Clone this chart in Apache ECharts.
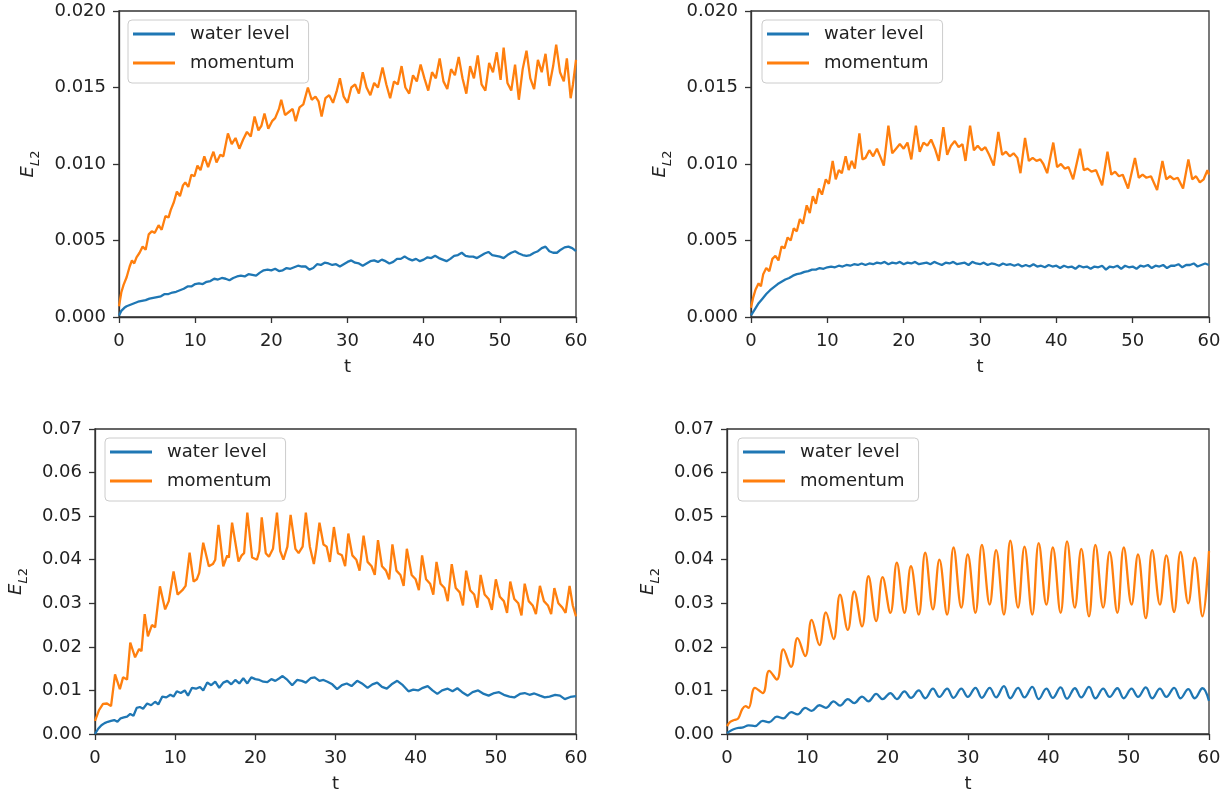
<!DOCTYPE html>
<html><head><meta charset="utf-8">
<script src="https://cdn.jsdelivr.net/npm/echarts@6/dist/echarts.min.js"></script>
<style>html,body{margin:0;padding:0;background:#fff}#c{width:1229px;height:794px}</style>
</head><body><div id="c"></div>
<script>
// ---- tick values ----
const xTicks = [0, 10, 20, 30, 40, 50, 60];
const yTicksTop = [0, 0.005, 0.010, 0.015, 0.020];
const yTicksBottom = [0, 0.01, 0.02, 0.03, 0.04, 0.05, 0.06, 0.07];
const seriesNames = ['water level', 'momentum'];

// ---- data: [t, E_L2] ----
const tlWater = [[0,0.0001],[0.3,0.0004],[0.7,0.0006],[1.0,0.0007],[1.5,0.0008],[2.0,0.0009],[2.5,0.0010],[3.0,0.00105],[3.5,0.0011],[4.0,0.0012],[4.5,0.00125],[5.0,0.0013],[5.5,0.00135],[6.0,0.0015],[6.5,0.0015],[7.0,0.0016],[7.5,0.00165],[8.0,0.00175],[8.5,0.00185],[9.0,0.0020],[9.5,0.0020],[10.0,0.00215],[10.5,0.0022],[11.0,0.00215],[11.5,0.0023],[12.0,0.00235],[12.5,0.0025],[13.0,0.00245],[13.5,0.00255],[14.0,0.0025],[14.5,0.0024],[15.0,0.00255],[15.5,0.00265],[16.0,0.0027],[16.5,0.00265],[17.0,0.0028],[17.5,0.00275],[18.0,0.0027],[18.5,0.0029],[19.0,0.00305],[19.5,0.0031],[20.0,0.00305],[20.5,0.00315],[21.0,0.0030],[21.5,0.00305],[22.0,0.0032],[22.5,0.00315],[23.0,0.00325],[23.5,0.00335],[24.0,0.0033],[24.5,0.0033],[25.0,0.0031],[25.5,0.0032],[26.0,0.00345],[26.5,0.0034],[27.0,0.00355],[27.5,0.0035],[28.0,0.0034],[28.5,0.00345],[29.0,0.0033],[29.5,0.00345],[30.0,0.0036],[30.5,0.0037],[31.0,0.00355],[31.5,0.0035],[32.0,0.00335],[32.5,0.0035],[33.0,0.00365],[33.5,0.0037],[34.0,0.0036],[34.5,0.00375],[35.0,0.00365],[35.5,0.0035],[36.0,0.0036],[36.5,0.0038],[37.0,0.0038],[37.5,0.00395],[38.0,0.0038],[38.5,0.0037],[39.0,0.0038],[39.5,0.00365],[40.0,0.00375],[40.5,0.0039],[41.0,0.00385],[41.5,0.0040],[42.0,0.00385],[42.5,0.00375],[43.0,0.00365],[43.5,0.0038],[44.0,0.0040],[44.5,0.00405],[45.0,0.0042],[45.5,0.0040],[46.0,0.00395],[46.5,0.00395],[47.0,0.00385],[47.5,0.0040],[48.0,0.00415],[48.5,0.00425],[49.0,0.00405],[49.5,0.0040],[50.0,0.00395],[50.5,0.00385],[51.0,0.00405],[51.5,0.0042],[52.0,0.0043],[52.5,0.00415],[53.0,0.00405],[53.5,0.0040],[54.0,0.00405],[54.5,0.0042],[55.0,0.0043],[55.5,0.0045],[56.0,0.0046],[56.5,0.0043],[57.0,0.0042],[57.5,0.0042],[58.0,0.0044],[58.5,0.00455],[59.0,0.0046],[59.5,0.0045],[60.0,0.0043]];
const tlMomentum = [[0,0.0007],[0.3,0.0016],[0.6,0.0021],[1.0,0.0026],[1.4,0.0033],[1.7,0.0037],[2.0,0.0035],[2.3,0.0039],[2.7,0.0042],[3.1,0.0046],[3.5,0.0044],[3.9,0.0054],[4.3,0.0056],[4.7,0.0055],[5.2,0.0060],[5.6,0.0057],[6.1,0.0066],[6.5,0.0065],[6.8,0.0070],[7.2,0.0075],[7.6,0.0082],[8.0,0.0079],[8.4,0.0086],[8.7,0.0088],[9.1,0.0085],[9.5,0.0093],[9.9,0.0092],[10.3,0.0099],[10.7,0.0096],[11.2,0.0105],[11.7,0.0098],[12.1,0.0104],[12.4,0.0108],[12.8,0.0101],[13.3,0.0106],[13.7,0.0105],[14.3,0.0120],[14.8,0.0113],[15.3,0.0117],[15.8,0.0110],[16.3,0.0116],[16.8,0.0121],[17.3,0.0118],[17.8,0.0131],[18.3,0.0122],[18.7,0.0125],[19.1,0.0133],[19.6,0.0123],[20.1,0.0128],[20.5,0.0130],[21.0,0.0136],[21.3,0.0142],[21.8,0.0132],[22.3,0.0134],[22.8,0.0136],[23.2,0.0128],[23.7,0.0137],[24.2,0.0139],[24.8,0.0150],[25.3,0.0142],[25.8,0.0144],[26.2,0.0141],[26.6,0.0131],[27.1,0.0143],[27.6,0.0145],[28.1,0.0140],[28.6,0.0148],[29.0,0.0156],[29.5,0.0144],[30.0,0.0140],[30.5,0.0150],[31.0,0.0152],[31.5,0.0146],[32.0,0.0160],[32.5,0.0150],[33.0,0.0145],[33.5,0.0153],[34.0,0.0150],[34.6,0.0163],[35.1,0.0152],[35.6,0.0143],[36.1,0.0154],[36.6,0.0152],[37.1,0.0164],[37.6,0.0150],[38.1,0.0146],[38.6,0.0158],[39.1,0.0154],[39.6,0.0165],[40.1,0.0156],[40.6,0.0148],[41.1,0.0160],[41.6,0.0156],[42.1,0.0169],[42.6,0.0154],[43.1,0.0149],[43.6,0.0162],[44.1,0.0158],[44.6,0.0170],[45.1,0.0156],[45.6,0.0146],[46.1,0.0164],[46.6,0.0156],[47.1,0.0171],[47.6,0.0152],[48.1,0.0148],[48.6,0.0166],[49.1,0.0160],[49.6,0.0173],[50.1,0.0155],[50.5,0.0176],[51.0,0.0153],[51.5,0.0148],[52.0,0.0165],[52.5,0.0142],[53.0,0.0162],[53.5,0.0174],[54.0,0.0156],[54.5,0.0149],[55.0,0.0168],[55.5,0.0160],[56.0,0.0172],[56.5,0.0151],[57.0,0.0164],[57.4,0.0178],[57.9,0.0160],[58.4,0.0154],[58.8,0.0169],[59.3,0.0143],[59.6,0.0152],[60.0,0.0168]];
const trWater = [[0,0.0001],[0.5,0.0005],[1.0,0.0009],[1.5,0.0012],[2.0,0.0015],[2.5,0.00175],[3.0,0.00195],[3.5,0.00215],[4.0,0.0023],[4.5,0.00245],[5.0,0.00255],[5.5,0.0027],[6.0,0.0028],[6.5,0.00285],[7.0,0.00295],[7.5,0.0030],[8.0,0.0031],[8.5,0.0031],[9.0,0.0032],[9.5,0.00315],[10.0,0.00325],[10.5,0.0033],[11.0,0.00325],[11.5,0.00335],[12.0,0.0033],[12.5,0.0034],[13.0,0.00335],[13.5,0.00345],[14.0,0.0034],[14.5,0.0035],[15.0,0.0034],[15.5,0.0035],[16.0,0.00345],[16.5,0.00355],[17.0,0.0035],[17.5,0.0036],[18.0,0.00345],[18.5,0.00355],[19.0,0.0035],[19.5,0.0036],[20.0,0.00345],[20.5,0.00355],[21.0,0.0035],[21.5,0.0036],[22.0,0.00345],[22.5,0.0035],[23.0,0.00355],[23.5,0.00345],[24.0,0.0036],[24.5,0.0035],[25.0,0.0034],[25.5,0.00355],[26.0,0.0035],[26.5,0.0036],[27.0,0.00345],[27.5,0.0035],[28.0,0.00355],[28.5,0.0034],[29.0,0.0036],[29.5,0.0035],[30.0,0.00345],[30.5,0.00355],[31.0,0.0034],[31.5,0.0035],[32.0,0.00345],[32.5,0.00335],[33.0,0.0035],[33.5,0.0034],[34.0,0.00345],[34.5,0.00335],[35.0,0.00345],[35.5,0.0033],[36.0,0.0034],[36.5,0.0033],[37.0,0.00345],[37.5,0.0033],[38.0,0.00335],[38.5,0.00325],[39.0,0.0034],[39.5,0.0033],[40.0,0.00335],[40.5,0.0032],[41.0,0.00335],[41.5,0.00325],[42.0,0.0033],[42.5,0.00315],[43.0,0.00335],[43.5,0.00325],[44.0,0.0033],[44.5,0.00315],[45.0,0.0033],[45.5,0.00325],[46.0,0.00335],[46.5,0.0031],[47.0,0.0033],[47.5,0.00325],[48.0,0.00335],[48.5,0.00315],[49.0,0.00335],[49.5,0.00325],[50.0,0.0033],[50.5,0.00315],[51.0,0.00335],[51.5,0.0033],[52.0,0.0034],[52.5,0.0032],[53.0,0.00335],[53.5,0.0033],[54.0,0.0034],[54.5,0.0032],[55.0,0.00335],[55.5,0.00335],[56.0,0.00345],[56.5,0.00325],[57.0,0.0034],[57.5,0.0034],[58.0,0.0035],[58.5,0.0033],[59.0,0.0034],[59.5,0.0035],[60.0,0.0034]];
const trMomentum = [[0,0.0006],[0.3,0.0013],[0.6,0.0018],[1.0,0.0022],[1.3,0.0020],[1.6,0.0028],[2.0,0.0032],[2.4,0.0030],[2.8,0.0038],[3.2,0.0040],[3.6,0.0037],[4.0,0.0046],[4.4,0.0045],[4.8,0.0052],[5.2,0.0050],[5.6,0.0058],[6.0,0.0056],[6.4,0.0064],[6.8,0.0061],[7.3,0.0073],[7.7,0.0068],[8.1,0.0079],[8.5,0.0074],[8.9,0.0084],[9.3,0.0080],[9.8,0.0090],[10.2,0.0087],[10.7,0.0102],[11.1,0.0090],[11.5,0.0096],[11.9,0.0094],[12.4,0.0105],[12.8,0.0096],[13.2,0.0102],[13.6,0.0097],[14.2,0.0120],[14.6,0.0103],[15.0,0.0104],[15.5,0.0109],[16.0,0.0105],[16.5,0.0110],[17.0,0.0104],[17.4,0.0099],[18.0,0.0125],[18.5,0.0107],[19.0,0.0110],[19.5,0.0113],[20.0,0.0110],[20.5,0.0114],[21.0,0.0103],[21.6,0.0125],[22.1,0.0108],[22.6,0.0114],[23.1,0.0112],[23.6,0.0116],[24.1,0.0110],[24.6,0.0102],[25.2,0.0124],[25.7,0.0106],[26.2,0.0112],[26.7,0.0115],[27.2,0.0111],[27.7,0.0113],[28.1,0.0102],[28.7,0.0125],[29.2,0.0109],[29.7,0.0112],[30.2,0.0109],[30.7,0.0111],[31.2,0.0106],[31.8,0.0099],[32.4,0.0121],[32.9,0.0106],[33.4,0.0108],[33.9,0.0105],[34.4,0.0107],[34.9,0.0104],[35.3,0.0094],[35.9,0.0117],[36.4,0.0102],[36.9,0.0104],[37.4,0.0102],[37.9,0.0103],[38.3,0.0100],[38.8,0.0094],[39.6,0.0114],[40.1,0.0098],[40.6,0.0100],[41.1,0.0097],[41.6,0.0098],[42.2,0.0090],[43.1,0.0110],[43.6,0.0096],[44.1,0.0097],[44.6,0.0095],[45.2,0.0096],[46.0,0.0086],[46.7,0.0108],[47.2,0.0093],[47.7,0.0095],[48.2,0.0092],[48.7,0.0093],[49.4,0.0084],[50.3,0.0104],[50.8,0.0091],[51.3,0.0093],[51.8,0.0091],[52.4,0.0092],[53.2,0.0083],[53.9,0.0102],[54.4,0.0090],[54.9,0.0092],[55.4,0.0090],[55.9,0.0091],[56.6,0.0084],[57.3,0.0103],[57.8,0.0090],[58.3,0.0092],[58.8,0.0088],[59.3,0.0090],[59.8,0.0096],[60.0,0.0093]];
const blWater = [[0,0],[0.4,0.0012],[0.8,0.0020],[1.2,0.0025],[1.6,0.0028],[2.0,0.0030],[2.4,0.0032],[2.8,0.0028],[3.2,0.0036],[3.6,0.0038],[4.0,0.0040],[4.4,0.0046],[4.8,0.0042],[5.2,0.0060],[5.6,0.0062],[6.0,0.0058],[6.5,0.0070],[7.0,0.0066],[7.5,0.0074],[7.9,0.0068],[8.4,0.0086],[8.9,0.0084],[9.4,0.0090],[9.8,0.0086],[10.2,0.0098],[10.7,0.0094],[11.2,0.0100],[11.6,0.0088],[12.1,0.0106],[12.6,0.0104],[13.1,0.0108],[13.5,0.0100],[14.0,0.0118],[14.5,0.0112],[15.0,0.0120],[15.5,0.0106],[16.0,0.0118],[16.5,0.0122],[17.0,0.0114],[17.5,0.0124],[18.0,0.0116],[18.5,0.0128],[19.0,0.0116],[19.5,0.0130],[20.0,0.0126],[20.5,0.0124],[21.0,0.0120],[21.5,0.0119],[22.0,0.0126],[22.5,0.0122],[23.0,0.0128],[23.4,0.0133],[24.0,0.0124],[24.6,0.0112],[25.2,0.0124],[25.8,0.0122],[26.3,0.0118],[26.9,0.0128],[27.4,0.0130],[28.0,0.0122],[28.5,0.0124],[29.0,0.0120],[29.6,0.0114],[30.2,0.0103],[30.8,0.0112],[31.4,0.0116],[32.0,0.0110],[32.7,0.0122],[33.3,0.0116],[34.0,0.0106],[34.6,0.0114],[35.2,0.0118],[35.8,0.0108],[36.4,0.0104],[37.0,0.0114],[37.7,0.0122],[38.4,0.0112],[39.1,0.0098],[39.7,0.0102],[40.3,0.0100],[40.9,0.0106],[41.5,0.0110],[42.1,0.0100],[42.7,0.0092],[43.3,0.0100],[44.0,0.0104],[44.6,0.0098],[45.2,0.0105],[45.8,0.0096],[46.5,0.0088],[47.1,0.0096],[47.8,0.0100],[48.5,0.0092],[49.1,0.0088],[49.8,0.0094],[50.4,0.0096],[51.0,0.0090],[51.7,0.0086],[52.3,0.0084],[53.0,0.0092],[53.6,0.0094],[54.2,0.0090],[54.8,0.0093],[55.5,0.0088],[56.1,0.0084],[56.7,0.0086],[57.4,0.0090],[58.0,0.0088],[58.6,0.0080],[59.3,0.0085],[60.0,0.0087]];
const blMomentum = [[0,0.0030],[0.5,0.0055],[1.0,0.0069],[1.5,0.0070],[2.0,0.0064],[2.5,0.0137],[3.1,0.0103],[3.5,0.0130],[4.0,0.0125],[4.4,0.0210],[5.0,0.0176],[5.5,0.0195],[5.8,0.0190],[6.2,0.0275],[6.6,0.0224],[7.1,0.0250],[7.5,0.0245],[8.1,0.0339],[8.75,0.0286],[9.2,0.0305],[9.8,0.0373],[10.3,0.0320],[10.9,0.0330],[11.3,0.0340],[11.8,0.0416],[12.3,0.0350],[12.7,0.0355],[13.0,0.0370],[13.5,0.0439],[14.2,0.0385],[14.7,0.0390],[15.0,0.0400],[15.4,0.0480],[16.0,0.0385],[16.5,0.0410],[16.7,0.0405],[17.1,0.0485],[17.9,0.0396],[18.3,0.0410],[18.6,0.0415],[19.0,0.0508],[19.6,0.0405],[20.2,0.0400],[20.5,0.0420],[20.8,0.0497],[21.3,0.0415],[21.7,0.0407],[22.2,0.0425],[22.7,0.0508],[23.1,0.0420],[23.5,0.0400],[24.0,0.0430],[24.4,0.0503],[25.0,0.0425],[25.4,0.0415],[25.9,0.0430],[26.3,0.0508],[26.8,0.0430],[27.3,0.0390],[27.6,0.0425],[28.0,0.0485],[28.5,0.0435],[28.9,0.0430],[29.3,0.0395],[29.8,0.0475],[30.3,0.0415],[30.8,0.0410],[31.2,0.0385],[31.6,0.0460],[32.1,0.0410],[32.6,0.0400],[33.0,0.0375],[33.5,0.0455],[34.0,0.0395],[34.5,0.0385],[34.9,0.0365],[35.3,0.0445],[35.8,0.0385],[36.3,0.0375],[36.7,0.0355],[37.1,0.0435],[37.6,0.0375],[38.1,0.0365],[38.5,0.0340],[38.9,0.0425],[39.5,0.0365],[40.0,0.0355],[40.4,0.0330],[40.8,0.0410],[41.3,0.0355],[41.8,0.0345],[42.2,0.0320],[42.6,0.0395],[43.1,0.0345],[43.6,0.0335],[44.0,0.0305],[44.5,0.0390],[45.0,0.0335],[45.5,0.0325],[45.9,0.0295],[46.3,0.0375],[46.8,0.0330],[47.3,0.0320],[47.7,0.0290],[48.1,0.0365],[48.6,0.0320],[49.1,0.0310],[49.5,0.0285],[50.0,0.0355],[50.5,0.0315],[51.0,0.0305],[51.4,0.0278],[51.8,0.0350],[52.3,0.0310],[52.8,0.0300],[53.2,0.0272],[53.6,0.0345],[54.1,0.0305],[54.6,0.0295],[55.0,0.0275],[55.5,0.0340],[56.0,0.0305],[56.5,0.0295],[56.9,0.0275],[57.3,0.0335],[57.8,0.0300],[58.3,0.0290],[58.7,0.0278],[59.2,0.0340],[59.6,0.0295],[60.0,0.0270]];
const brWater = [[0,0.0002],[0.5,0.0008],[1.0,0.0012],[1.5,0.0014],[2.0,0.0015],[2.68,0.0020],[3.48,0.0018],[4.45,0.0030],[5.25,0.0027],[6.21,0.0040],[7.01,0.0036],[7.98,0.0050],[8.78,0.0045],[9.74,0.0060],[10.54,0.0053],[11.51,0.0066],[12.31,0.0060],[13.27,0.0075],[14.07,0.0065],[15.04,0.0080],[15.84,0.0071],[16.81,0.0086],[17.61,0.0075],[18.57,0.0092],[19.37,0.0080],[20.34,0.0094],[21.14,0.0080],[22.10,0.0098],[22.90,0.0083],[23.87,0.0100],[24.67,0.0082],[25.64,0.0104],[26.44,0.0085],[27.40,0.0104],[28.20,0.0083],[29.17,0.0104],[29.97,0.0085],[30.93,0.0106],[31.73,0.0083],[32.70,0.0106],[33.50,0.0084],[34.47,0.0110],[35.27,0.0082],[36.23,0.0106],[37.03,0.0084],[38.00,0.0108],[38.80,0.0080],[39.76,0.0104],[40.56,0.0083],[41.53,0.0107],[42.33,0.0081],[43.30,0.0105],[44.10,0.0084],[45.06,0.0108],[45.86,0.0082],[46.83,0.0104],[47.63,0.0085],[48.59,0.0105],[49.39,0.0082],[50.36,0.0104],[51.16,0.0085],[52.13,0.0107],[52.93,0.0082],[53.89,0.0104],[54.69,0.0085],[55.66,0.0106],[56.46,0.0082],[57.42,0.0103],[58.22,0.0082],[59.19,0.0105],[60,0.0076]];
const brMomentum = [[0,0.0018],[0.4,0.0028],[0.9,0.0032],[1.4,0.0036],[1.9,0.0057],[2.3,0.0064],[2.68,0.0060],[3.48,0.0106],[4.45,0.0094],[5.25,0.0145],[6.21,0.0125],[7.01,0.0194],[7.98,0.0154],[8.78,0.0220],[9.74,0.0179],[10.54,0.0262],[11.51,0.0204],[12.31,0.0279],[13.27,0.0218],[14.07,0.0320],[15.04,0.0239],[15.84,0.0327],[16.81,0.0247],[17.61,0.0362],[18.57,0.0259],[19.37,0.0360],[20.34,0.0278],[21.14,0.0393],[22.10,0.0278],[22.90,0.0385],[23.87,0.0274],[24.67,0.0416],[25.64,0.0286],[26.44,0.0400],[27.40,0.0274],[28.20,0.0428],[29.17,0.0290],[29.97,0.0412],[30.93,0.0278],[31.73,0.0434],[32.70,0.0297],[33.50,0.0422],[34.47,0.0274],[35.27,0.0444],[36.23,0.0290],[37.03,0.0430],[38.00,0.0274],[38.80,0.0438],[39.76,0.0297],[40.56,0.0428],[41.53,0.0278],[42.33,0.0442],[43.30,0.0290],[44.10,0.0425],[45.06,0.0270],[45.86,0.0434],[46.83,0.0290],[47.63,0.0418],[48.59,0.0278],[49.39,0.0428],[50.36,0.0297],[51.16,0.0412],[52.13,0.0266],[52.93,0.0422],[53.89,0.0297],[54.69,0.0410],[55.66,0.0280],[56.46,0.0418],[57.42,0.0300],[58.22,0.0405],[59.19,0.0270],[60,0.0420]];

// ---- layout ----
const FONT = 'DejaVu Sans';
const TXT = '#222';
const AX = '#333';
const BLUE = '#1f77b4', ORANGE = '#ff7f0e';

const panels = [
  { grid: {left:119, top:11, width:457, height:306}, legend:{left:128, top:20}, yTicks: yTicksTop, dec:3, nameGap:77, water: tlWater, mom: tlMomentum, smooth:false },
  { grid: {left:751, top:11, width:458, height:306}, legend:{left:762, top:20}, yTicks: yTicksTop, dec:3, nameGap:77, water: trWater, mom: trMomentum, smooth:false },
  { grid: {left:95, top:429, width:481, height:306}, legend:{left:105, top:438}, yTicks: yTicksBottom, dec:2, nameGap:65, water: blWater, mom: blMomentum, smooth:false },
  { grid: {left:727, top:429, width:482, height:306}, legend:{left:738, top:438}, yTicks: yTicksBottom, dec:2, nameGap:65, water: brWater, mom: brMomentum, smooth:0.4 }
];

const grids = [], xAxes = [], yAxes = [], series = [], legends = [];
panels.forEach((p, i) => {
  grids.push(Object.assign({ show:true, borderColor:AX, borderWidth:1.3, backgroundColor:'transparent', containLabel:false }, p.grid));
  xAxes.push({
    type:'value', gridIndex:i, min:xTicks[0], max:xTicks[xTicks.length-1], interval:xTicks[1]-xTicks[0],
    name:'t', nameLocation:'middle', nameGap:41,
    nameTextStyle:{ fontFamily:FONT, fontSize:18, color:TXT },
    axisLine:{ show:true, lineStyle:{ color:AX, width:1.3 } },
    axisTick:{ show:true, inside:false, length:6, lineStyle:{ color:AX, width:1.3 } },
    axisLabel:{ fontFamily:FONT, fontSize:18, color:TXT, margin:15 },
    splitLine:{ show:false }
  });
  const yt = p.yTicks;
  yAxes.push({
    type:'value', gridIndex:i, min:yt[0], max:yt[yt.length-1], interval:yt[1]-yt[0],
    name:'{e|E}{si|L}{sn|2}', nameLocation:'middle', nameRotate:90, nameGap:p.nameGap,
    nameTextStyle:{ color:TXT, rich:{
      e:{ fontFamily:FONT, fontSize:18, fontStyle:'italic', color:TXT, lineHeight:22, verticalAlign:'top' },
      si:{ fontFamily:FONT, fontSize:13, fontStyle:'italic', color:TXT, lineHeight:23, verticalAlign:'bottom' },
      sn:{ fontFamily:FONT, fontSize:13, color:TXT, lineHeight:23, verticalAlign:'bottom' }
    }},
    axisLine:{ show:true, lineStyle:{ color:AX, width:1.3 } },
    axisTick:{ show:true, inside:false, length:6, lineStyle:{ color:AX, width:1.3 } },
    axisLabel:{ fontFamily:FONT, fontSize:18, color:TXT, margin:13, formatter:(v)=>v.toFixed(p.dec) },
    splitLine:{ show:false }
  });
  series.push({ name:seriesNames[0], type:'line', xAxisIndex:i, yAxisIndex:i, data:p.water, symbol:'none', smooth:p.smooth,
    lineStyle:{ color:BLUE, width:2.3 }, itemStyle:{ color:BLUE }, animation:false });
  series.push({ name:seriesNames[1], type:'line', xAxisIndex:i, yAxisIndex:i, data:p.mom, symbol:'none', smooth:p.smooth,
    lineStyle:{ color:ORANGE, width:2.3 }, itemStyle:{ color:ORANGE }, animation:false });
  legends.push({
    orient:'vertical', left:p.legend.left, top:p.legend.top, data:seriesNames.slice(),
    icon:'rect', itemWidth:42, itemHeight:3, itemGap:9, padding:[4,14,10,5],
    borderColor:'#cccccc', borderWidth:1, borderRadius:4, backgroundColor:'rgba(255,255,255,0.8)',
    selectedMode:false,
    textStyle:{ fontFamily:FONT, fontSize:18, color:TXT, lineHeight:20, padding:[0,0,0,10] }
  });
});

const chart = echarts.init(document.getElementById('c'), null, { renderer:'canvas' });
chart.setOption({ animation:false, backgroundColor:'#fff', grid:grids, xAxis:xAxes, yAxis:yAxes, series:series, legend:legends });
</script></body></html>
